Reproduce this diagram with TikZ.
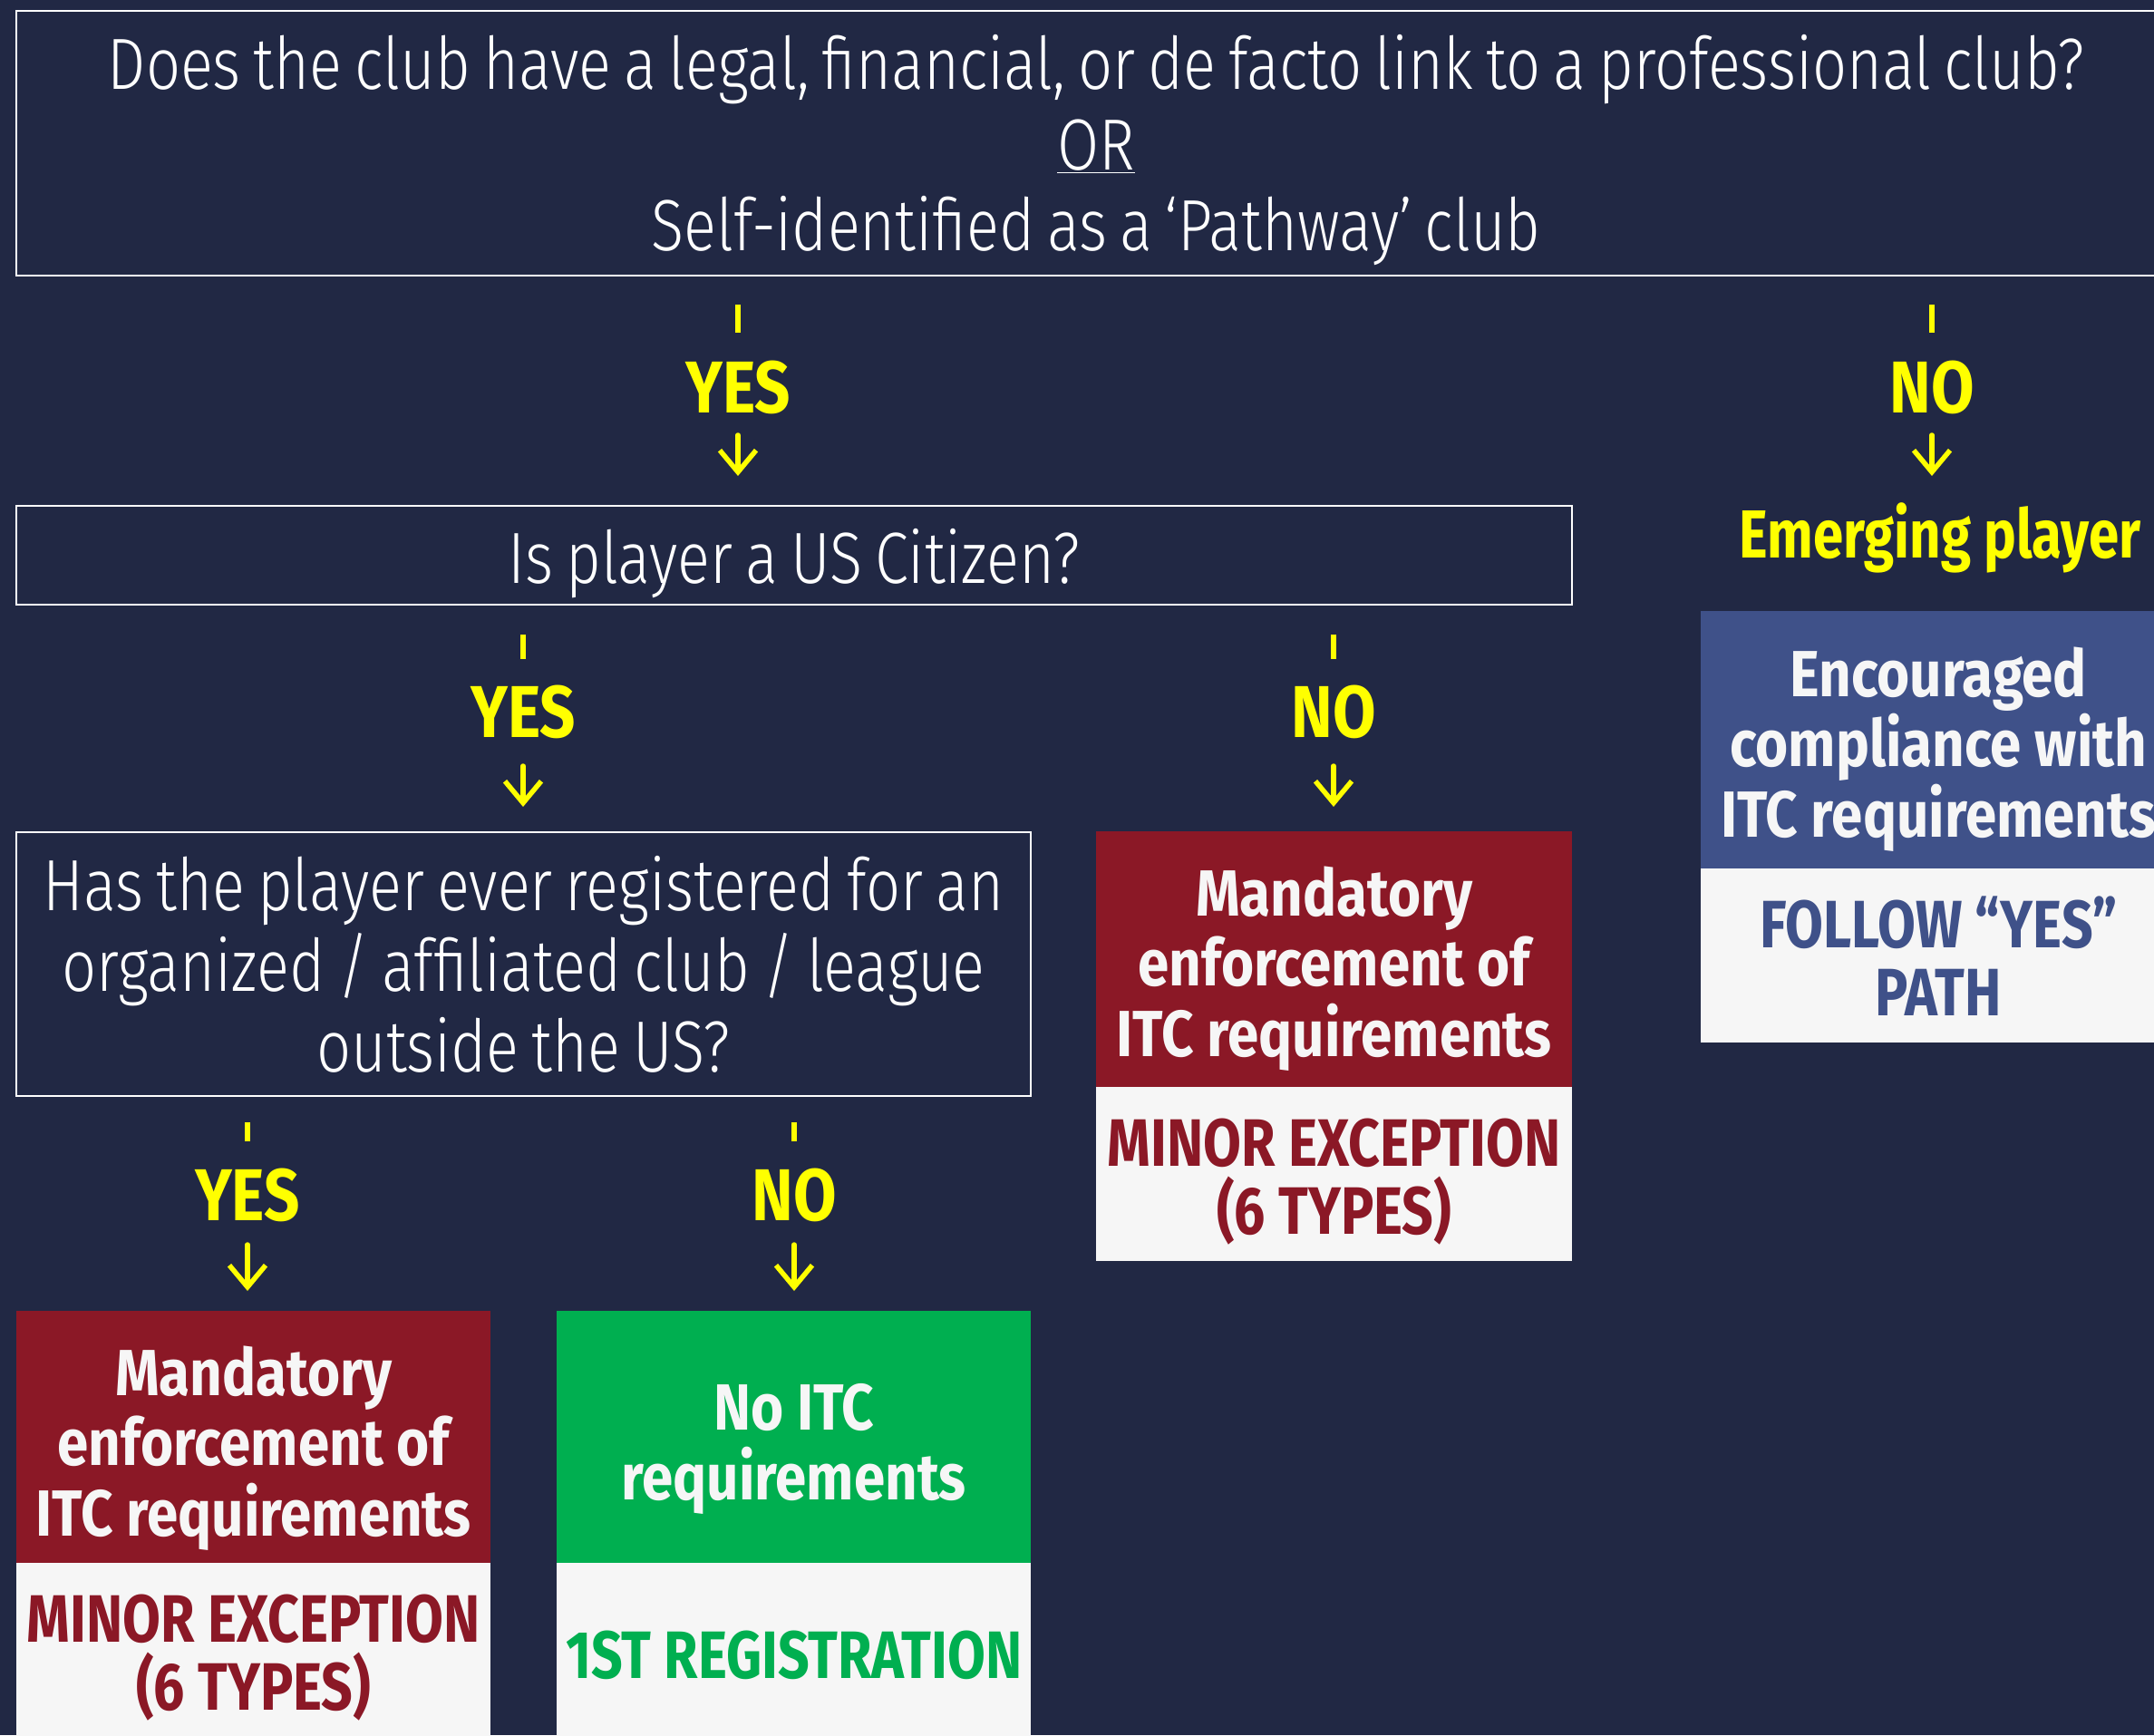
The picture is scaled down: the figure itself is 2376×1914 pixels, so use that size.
\documentclass[tikz,border=0pt]{standalone}
\usepackage{fontspec}
\usetikzlibrary{arrows.meta}
\newfontfamily\lightf[FakeStretch=0.835,WordSpace=0.75]{Fira Sans Light}
\newfontfamily\headf[FakeStretch=0.86]{Fira Sans}
\newfontfamily\subf[FakeStretch=0.82]{Fira Sans}
\newfontfamily\emergf[FakeStretch=0.80]{Fira Sans}
\newfontfamily\yesf[FakeStretch=0.85]{Fira Sans}
\definecolor{bg}{HTML}{212844}
\definecolor{myred}{HTML}{8B1826}
\definecolor{mygreen}{HTML}{00AF50}
\definecolor{myblue}{HTML}{3F5189}
\definecolor{offwhite}{HTML}{F6F6F6}
\definecolor{myyellow}{HTML}{FFFF00}
\tikzset{
  qbox/.style={draw=white, line width=2.5pt, inner sep=0pt},
  qtext/.style={text=white, align=center, inner sep=0pt,
    font=\lightf\fontsize{80}{89}\selectfont},
  headbox/.style={inner sep=0pt, minimum width=#1, anchor=north west},
  subbox/.style={inner sep=0pt, fill=offwhite, minimum width=#1, minimum height=192pt, anchor=north west},
  headtext/.style={inner sep=0pt, align=center, text=offwhite,
    font=\headf\bfseries\fontsize{72}{77.5}\selectfont},
  subtext/.style={inner sep=0pt, align=center,
    font=\subf\bfseries\fontsize{74}{75}\selectfont},
  answer/.style={text=myyellow, inner sep=0pt, anchor=base, font=\yesf\bfseries\fontsize{81}{81}\selectfont},
  tickline/.style={draw=myyellow, line width=6pt},
  yarrow/.style={draw=myyellow, line width=5.5pt, line cap=round,
    -{Straight Barb[length=24pt,width=40pt,line width=5.5pt]}}
}
\begin{document}
\begin{tikzpicture}[x=1pt,y=-1pt]
\fill[bg] (0,0) rectangle (2376,1914);
\useasboundingbox (0,0) rectangle (2376,1914);
\clip (0,0) rectangle (2376,1914);

% top question
\node[qbox, minimum width=2382pt, minimum height=292pt] (q1) at (1209,158) {};
\node[qtext] (q1t) at ([yshift=-8pt]q1.center)
  {Does the club have a legal, financial, or de facto link to a professional club?\\
   \underline{OR}\\ Self-identified as a ‘Pathway’ club};

% level 1 answers
\node[answer] (yes1) at (814,455) {YES};
\node[answer] (no1) at (2131,455) {NO};
\coordinate (y1t) at (814,336); \coordinate (y1b) at (814,367);
\coordinate (n1t) at (2131,336); \coordinate (n1b) at (2131,367);
\draw[tickline] (y1t) -- (y1b);
\draw[tickline] (n1t) -- (n1b);
\coordinate (y1a) at (814,480); \coordinate (y1e) at (814,525);
\coordinate (n1a) at (2131,480); \coordinate (n1e) at (2131,525);
\draw[yarrow] (y1a) -- (y1e);
\draw[yarrow] (n1a) -- (n1e);

\node[text=myyellow, anchor=base, inner sep=0pt, font=\emergf\bfseries\fontsize{75}{75}\selectfont]
  (emerg) at (2140,615) {Emerging player};

% blue box
\node[headbox=524pt, fill=myblue, minimum height=284pt] (blue) at (1876,674) {};
\node[headtext] (bluet) at ([yshift=-10pt]blue.center) {Encouraged\\compliance with\\ITC requirements};
\node[subbox=524pt] (bluesub) at (1876,958) {};
\node[subtext, text=myblue] (bluesubt) at ([yshift=0pt]bluesub.center) {FOLLOW “YES”\\PATH};

% second question
\node[qbox, minimum width=1716pt, minimum height=109pt] (q2) at (876,612.5) {};
\node[qtext] (q2t) at ([yshift=-9pt]q2.center) {Is player a US Citizen?};

% level 2 answers
\node[answer] (yes2) at (577,813) {YES};
\node[answer] (no2) at (1471,813) {NO};
\coordinate (y2t) at (577,700); \coordinate (y2b) at (577,727);
\coordinate (n2t) at (1471,700); \coordinate (n2b) at (1471,727);
\draw[tickline] (y2t) -- (y2b);
\draw[tickline] (n2t) -- (n2b);
\coordinate (y2a) at (577,845); \coordinate (y2e) at (577,890);
\coordinate (n2a) at (1471,845); \coordinate (n2e) at (1471,890);
\draw[yarrow] (y2a) -- (y2e);
\draw[yarrow] (n2a) -- (n2e);

% third question
\node[qbox, minimum width=1119pt, minimum height=291pt] (q3) at (577.5,1063.5) {};
\node[qtext] (q3t) at (q3.center)
  {Has the player ever registered for an\\organized / affiliated club / league\\outside the US?};

% right red box
\node[headbox=525pt, fill=myred, minimum height=282pt] (red1) at (1209,917) {};
\node[headtext] (red1t) at ([yshift=-10pt]red1.center) {Mandatory\\enforcement of\\ITC requirements};
\node[subbox=525pt] (red1sub) at (1209,1199) {};
\node[subtext, text=myred] (red1subt) at ([yshift=-8pt]red1sub.center) {MINOR EXCEPTION\\(6 TYPES)};

% level 3 answers
\node[answer] (yes3) at (273,1346) {YES};
\node[answer] (no3) at (876,1346) {NO};
\coordinate (y3t) at (273,1238); \coordinate (y3b) at (273,1259);
\coordinate (n3t) at (876,1238); \coordinate (n3b) at (876,1259);
\draw[tickline] (y3t) -- (y3b);
\draw[tickline] (n3t) -- (n3b);
\coordinate (y3a) at (273,1373); \coordinate (y3e) at (273,1424);
\coordinate (n3a) at (876,1373); \coordinate (n3e) at (876,1424);
\draw[yarrow] (y3a) -- (y3e);
\draw[yarrow] (n3a) -- (n3e);

% bottom left red box
\node[headbox=523pt, fill=myred, minimum height=278pt] (red2) at (18,1446) {};
\node[headtext] (red2t) at ([yshift=-12pt]red2.center) {Mandatory\\enforcement of\\ITC requirements};
\node[subbox=523pt] (red2sub) at (18,1724) {};
\node[subtext, text=myred] (red2subt) at ([yshift=-8pt]red2sub.center) {MINOR EXCEPTION\\(6 TYPES)};

% green box
\node[headbox=523pt, fill=mygreen, minimum height=278pt] (green) at (614,1446) {};
\node[headtext] (greent) at ([yshift=-13pt]green.center) {No ITC\\requirements};
\node[subbox=523pt] (greensub) at (614,1724) {};
\node[subtext, text=mygreen] (greensubt) at ([yshift=-6pt]greensub.center) {1ST REGISTRATION};
\end{tikzpicture}
\end{document}
